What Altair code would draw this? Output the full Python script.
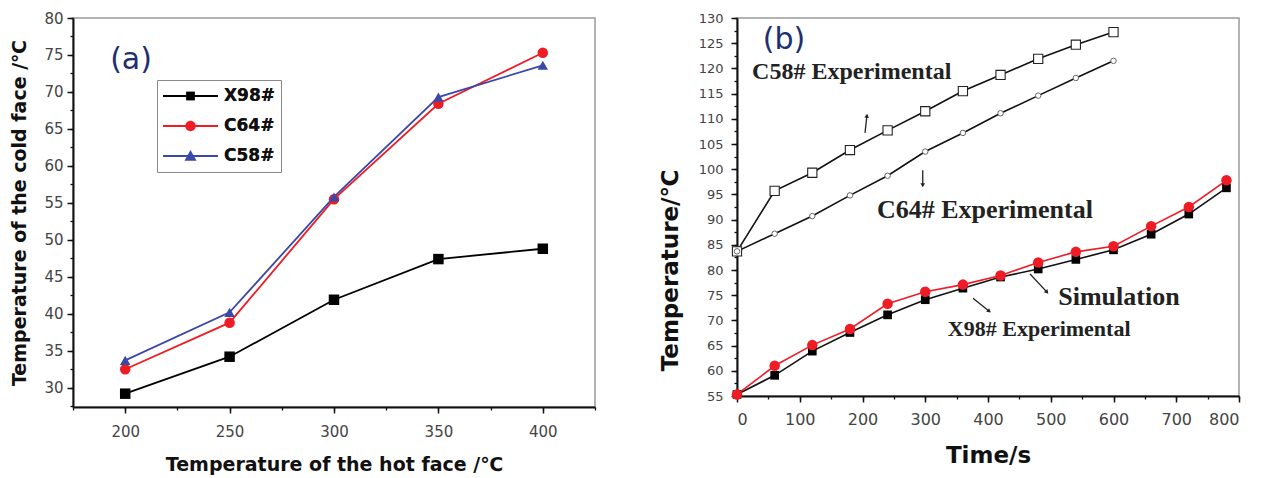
import altair as alt
import pandas as pd

# ---------------- Panel (a) data ----------------
hot_face = [200, 250, 300, 350, 400]
x98_cold = [29.2, 34.2, 41.9, 47.4, 48.8]
c64_cold = [32.5, 38.8, 55.5, 68.4, 75.3]
c58_cold = [33.7, 40.2, 55.8, 69.3, 73.6]
series_a = ["X98#", "C64#", "C58#"]
colors_a = ["#000000", "#ee1c25", "#3a48a8"]
shapes_a = ["square", "circle", "triangle-up"]
legend_marks = [
    "M-0.16,-0.16H0.16V0.16H-0.16Z",
    "M-0.19,0A0.19,0.19,0,1,0,0.19,0A0.19,0.19,0,1,0,-0.19,0Z",
    "M0,-0.22L0.22,0.17H-0.22Z",
]
legend_line = "M-1,0H1"

# ---------------- Panel (b) data ----------------
time_short = [0, 60, 120, 180, 240, 300, 360, 420, 480, 540, 600]
c58_exp = [83.7, 95.7, 99.3, 103.8, 107.7, 111.5, 115.5, 118.7, 121.9, 124.7, 127.2]
c64_exp = [83.7, 87.2, 90.7, 94.8, 98.7, 103.5, 107.2, 111.1, 114.6, 118.1, 121.5]
time_long = [0, 60, 120, 180, 240, 300, 360, 420, 480, 540, 600, 660, 720, 780]
simulation = [55.3, 61.0, 65.1, 68.3, 73.3, 75.7, 77.1, 78.9, 81.5, 83.6, 84.7, 88.7, 92.5, 97.8]
x98_exp = [55.3, 59.1, 63.9, 67.6, 71.1, 74.1, 76.4, 78.6, 80.2, 82.1, 84.0, 87.1, 91.1, 96.3]
series_b = ["C58 exp", "C64 exp", "X98 exp", "Simulation"]
colors_b = ["#111111", "#111111", "#111111", "#ee1c25"]

note_text = ["C58# Experimental", "C64# Experimental", "Simulation", "X98# Experimental"]
note_t = [24, 223, 512, 336]
note_v = [119.2, 92.0, 74.6, 68.2]
note_size = [24, 26, 26, 22]

arrow_t = [204, 296, 467, 376]
arrow_v = [107.2, 99.8, 79.2, 74.4]
arrow_t2 = [207, 296, 494, 402]
arrow_v2 = [110.6, 96.8, 75.6, 71.8]
arrow_ang = [8, 180, 137, 129]

FONT = "DejaVu Sans"
SERIF = "Liberation Serif"
INK = "#111111"


def frange(a, b, step):
    out = []
    v = a
    while v <= b + 1e-9:
        out.append(round(v, 3))
        v += step
    return out


def major_axis(title, values, orient, label_size, title_size, title_pad, label_pad, **kw):
    return alt.Axis(
        title=title, values=values, orient=orient, tickSize=6,
        labelFontSize=label_size, labelFont=FONT, labelColor="#444444",
        labelPadding=label_pad, labelOverlap=False,
        titleFont=FONT, titleFontSize=title_size, titleFontWeight="bold",
        titleColor=INK, titlePadding=title_pad,
        domainColor=INK, domainWidth=2, tickColor=INK, tickWidth=1.5, grid=False,
        **kw,
    )


def minor_axis(values, orient):
    return alt.Axis(
        title=None, values=values, labels=False, domain=False, tickSize=3,
        tickColor=INK, tickWidth=1.3, grid=False, orient=orient,
    )


def ticks_layer(df, xf, yf, xs, ys, xminor, yminor):
    return alt.Chart(df).mark_point(opacity=0).encode(
        x=alt.X(xf, scale=xs, axis=minor_axis(xminor, "bottom")),
        y=alt.Y(yf, scale=ys, axis=minor_axis(yminor, "left")),
    )


# ---------------- Panel (a) ----------------
df_a = pd.DataFrame({
    "hot": hot_face * 3,
    "cold": x98_cold + c64_cold + c58_cold,
    "series": [series_a[0]] * 5 + [series_a[1]] * 5 + [series_a[2]] * 5,
    "order": [0] * 5 + [1] * 5 + [2] * 5,
})

sxa = alt.Scale(domain=[175, 425], nice=False, zero=False)
sya = alt.Scale(domain=[27.4, 80], nice=False, zero=False)
xa_main = alt.X("hot:Q", scale=sxa, axis=major_axis(
    "Temperature of the hot face /℃", frange(200, 400, 50), "bottom", 15, 19, 16, 11))
ya_main = alt.Y("cold:Q", scale=sya, axis=major_axis(
    "Temperature of the cold face /℃", frange(30, 80, 5), "left", 15, 19, 14, 4))
xa = alt.X("hot:Q", scale=sxa, axis=None)
ya = alt.Y("cold:Q", scale=sya, axis=None)

color_a = alt.Color("series:N", scale=alt.Scale(domain=series_a, range=colors_a), legend=None)
shape_a = alt.Shape("series:N", scale=alt.Scale(domain=series_a, range=shapes_a), legend=None)

lines_a = alt.Chart(df_a).mark_line(strokeWidth=1.8).encode(xa_main, ya_main, color_a, order="order:Q")
points_a = alt.Chart(df_a).mark_point(filled=True, size=110, opacity=1).encode(
    xa, ya, color_a, shape_a, order="order:Q")
minor_a = ticks_layer(df_a, "hot:Q", "cold:Q", sxa, sya, frange(175, 425, 25), frange(27.5, 80, 2.5))

legend_common = dict(
    orient="none", legendX=84, legendY=62, title=None,
    labelFont=FONT, labelFontSize=17, labelFontWeight="bold", labelColor=INK,
    symbolSize=3025, symbolStrokeWidth=1.8, symbolOpacity=1, clipHeight=22, rowPadding=8,
    labelOffset=5, padding=5,
)
legend_lines = alt.Legend(symbolType=legend_line, strokeColor="#8a8a8a", fillColor="white",
                          **legend_common)
legend_shapes = alt.Legend(**legend_common)

leg_line_layer = alt.Chart(df_a).mark_point(opacity=0, filled=False, strokeWidth=1.8).encode(
    xa, ya,
    color=alt.Color("series:N", scale=alt.Scale(domain=series_a, range=colors_a), legend=legend_lines),
)
leg_shape_layer = alt.Chart(df_a).mark_point(opacity=0, filled=True).encode(
    xa, ya,
    color=alt.Color("series:N", scale=alt.Scale(domain=series_a, range=colors_a), legend=legend_shapes),
    shape=alt.Shape("series:N", scale=alt.Scale(domain=series_a, range=legend_marks), legend=legend_shapes),
)

label_a = alt.Chart(pd.DataFrame({"t": ["(a)"], "x": [192.8], "y": [74.3]})).mark_text(
    font=FONT, fontSize=30, color="#1d2f6f", align="left", baseline="middle"
).encode(x=alt.X("x:Q", scale=sxa, axis=None), y=alt.Y("y:Q", scale=sya, axis=None), text="t:N")

panel_a = alt.layer(minor_a, lines_a, points_a, leg_line_layer, leg_shape_layer, label_a).resolve_scale(
    color="independent", shape="independent"
).resolve_axis(x="independent", y="independent").properties(width=522, height=389)

# ---------------- Panel (b) ----------------
df_b = pd.DataFrame({
    "time": time_short * 2 + time_long * 2,
    "temp": c58_exp + c64_exp + x98_exp + simulation,
    "series": [series_b[0]] * 11 + [series_b[1]] * 11 + [series_b[2]] * 14 + [series_b[3]] * 14,
})

sxb = alt.Scale(domain=[0, 800], nice=False)
syb = alt.Scale(domain=[55, 130], nice=False, zero=False)
xb_main = alt.X("time:Q", scale=sxb, axis=major_axis("Time/s", frange(0, 800, 100), "bottom", 16, 23, 17, 9))
yb_main = alt.Y("temp:Q", scale=syb, axis=major_axis(
    "Temperature/℃", frange(55, 130, 5), "left", 13, 23, 16, 8, titleY=252))
xb = alt.X("time:Q", scale=sxb, axis=None)
yb = alt.Y("temp:Q", scale=syb, axis=None)

lines_b = alt.Chart(df_b).mark_line(strokeWidth=1.6).encode(
    xb_main, yb_main, alt.Color("series:N", scale=alt.Scale(domain=series_b, range=colors_b), legend=None))
minor_b = ticks_layer(df_b, "time:Q", "temp:Q", sxb, syb, frange(0, 800, 50), frange(55, 130, 2.5))


def pts(name, **style):
    return alt.Chart(df_b).transform_filter(alt.datum.series == name).mark_point(
        opacity=1, **style).encode(xb, yb)


p_c58 = pts(series_b[0], shape="square", size=85, filled=True, fill="white", stroke="#222222", strokeWidth=1.1)
p_c64 = pts(series_b[1], shape="circle", size=30, filled=True, fill="white", stroke="#666666", strokeWidth=1)
p_x98 = pts(series_b[2], shape="square", size=75, filled=True, color="#000000")
p_sim = pts(series_b[3], shape="circle", size=110, filled=True, color="#ee1c25")

df_notes = pd.DataFrame({"label": note_text, "t": note_t, "v": note_v, "fs": note_size})
notes = alt.Chart(df_notes).mark_text(
    font=SERIF, fontWeight="bold", color="#222222", align="left", baseline="middle"
).encode(x=alt.X("t:Q", scale=sxb, axis=None), y=alt.Y("v:Q", scale=syb, axis=None),
         text="label:N", size=alt.Size("fs:Q", scale=None, legend=None))

df_arrows = pd.DataFrame({"t": arrow_t, "v": arrow_v, "t2": arrow_t2, "v2": arrow_v2, "ang": arrow_ang})
arrows = alt.Chart(df_arrows).mark_rule(color="#222222", strokeWidth=1.3).encode(
    x=alt.X("t:Q", scale=sxb, axis=None), y=alt.Y("v:Q", scale=syb, axis=None), x2="t2:Q", y2="v2:Q")
heads = alt.Chart(df_arrows).mark_point(shape="triangle-up", filled=True, color="#222222", size=22, opacity=1).encode(
    x=alt.X("t2:Q", scale=sxb, axis=None), y=alt.Y("v2:Q", scale=syb, axis=None),
    angle=alt.Angle("ang:Q", scale=None))

label_b = alt.Chart(pd.DataFrame({"t": ["(b)"], "x": [41], "y": [125.6]})).mark_text(
    font=FONT, fontSize=30, color="#1d2f6f", align="left", baseline="middle"
).encode(x=alt.X("x:Q", scale=sxb, axis=None), y=alt.Y("y:Q", scale=syb, axis=None), text="t:N")

panel_b = alt.layer(minor_b, lines_b, p_c58, p_c64, p_x98, p_sim, notes, arrows, heads, label_b).resolve_axis(
    x="independent", y="independent").properties(width=502, height=378)

chart = alt.hconcat(panel_a, panel_b, spacing=61).resolve_scale(
    color="independent", shape="independent", size="independent"
).properties(
    padding={"left": 10, "top": 10, "right": 5, "bottom": 5}, background="white"
).configure_view(stroke="#9a9a9a", strokeWidth=1.5)

chart.save("out.html", embed_options={"renderer": "svg", "actions": False})
